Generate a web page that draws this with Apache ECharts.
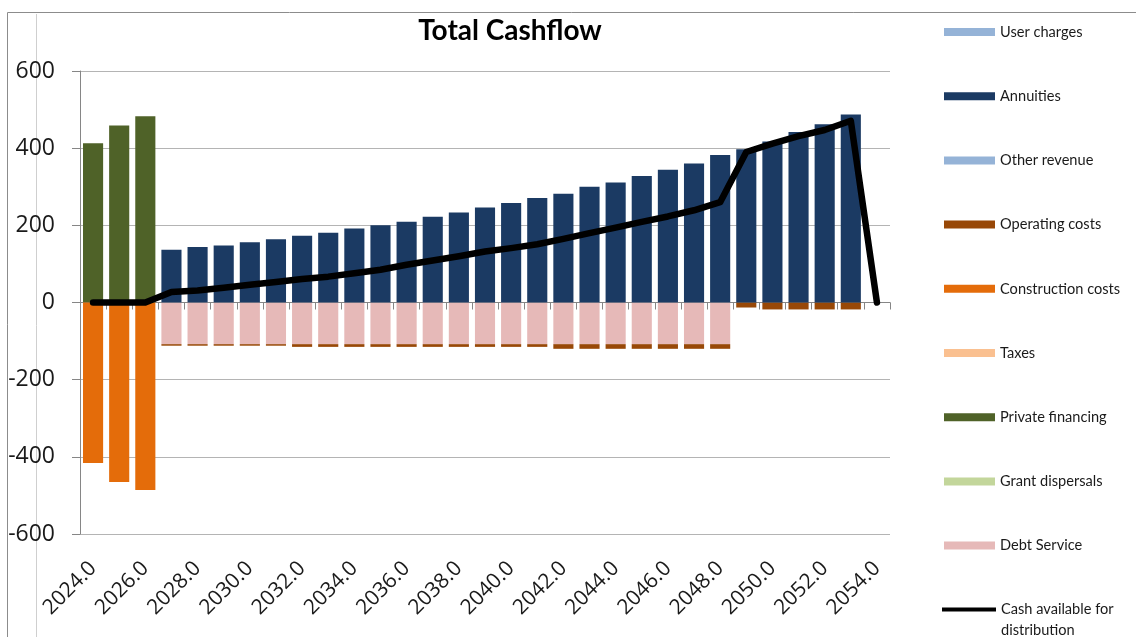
<!DOCTYPE html>
<html><head><meta charset="utf-8">
<script src="https://cdn.jsdelivr.net/npm/echarts@6/dist/echarts.min.js"></script>
<style>html,body{margin:0;padding:0;background:#fff}#c{width:1136px;height:637px}</style>
</head><body><div id="c"></div><script>
const years = ['2024.0','2025.0','2026.0','2027.0','2028.0','2029.0','2030.0','2031.0','2032.0','2033.0','2034.0','2035.0','2036.0','2037.0','2038.0','2039.0','2040.0','2041.0','2042.0','2043.0','2044.0','2045.0','2046.0','2047.0','2048.0','2049.0','2050.0','2051.0','2052.0','2053.0','2054.0'];
const yTicks = [-600,-400,-200,0,200,400,600];
const userCharges      = [0,0,0,0,0,0,0,0,0,0,0,0,0,0,0,0,0,0,0,0,0,0,0,0,0,0,0,0,0,0,0];
const annuities        = [0,0,0,137,144,148,156,164,173,181,192,200,209,222,233,246,258,271,282,300,311,328,344,360,382,397,417,442,462,487,0];
const otherRevenue     = [0,0,0,0,0,0,0,0,0,0,0,0,0,0,0,0,0,0,0,0,0,0,0,0,0,0,0,0,0,0,0];
const operatingCosts   = [0,0,0,-4,-4,-4,-4,-4,-7,-7,-7,-7,-7,-7,-7,-7,-7,-7,-12,-12,-12,-12,-12,-12,-12,-13,-18,-18,-18,-18,0];
const constructionCosts= [-416,-465,-486,0,0,0,0,0,0,0,0,0,0,0,0,0,0,0,0,0,0,0,0,0,0,0,0,0,0,0,0];
const taxes            = [0,0,0,0,0,0,0,0,0,0,0,0,0,0,0,0,0,0,0,0,0,0,0,0,0,0,0,0,0,0,0];
const privateFinancing = [413,459,483,0,0,0,0,0,0,0,0,0,0,0,0,0,0,0,0,0,0,0,0,0,0,0,0,0,0,0,0];
const grantDispersals  = [0,0,0,0,0,0,0,0,0,0,0,0,0,0,0,0,0,0,0,0,0,0,0,0,0,0,0,0,0,0,0];
const debtService      = [0,0,0,-108,-108,-108,-108,-108,-108,-108,-108,-108,-108,-108,-108,-108,-108,-108,-108,-108,-108,-108,-108,-108,-108,0,0,0,0,0,0];
const cashAvailable    = [0,0,0,27,31,38,46,53,61,67,76,85,98,109,120,132,141,151,165,180,194,209,223,239,260,390,412,431,447,471,0];

const CASH = 'Cash available for distribution';
const barDefs = [
  ['Debt Service', debtService, '#e6b9b8'],
  ['Grant dispersals', grantDispersals, '#c3d69b'],
  ['Private financing', privateFinancing, '#4f6228'],
  ['Taxes', taxes, '#fac090'],
  ['Construction costs', constructionCosts, '#e46c0a'],
  ['Operating costs', operatingCosts, '#984807'],
  ['Other revenue', otherRevenue, '#95b3d7'],
  ['Annuities', annuities, '#1b3a63'],
  ['User charges', userCharges, '#95b3d7']
];
const legendOrder = ['User charges','Annuities','Other revenue','Operating costs','Construction costs','Taxes','Private financing','Grant dispersals','Debt Service'];

const series = barDefs.map(([name, data, color]) => ({
  name, type: 'bar', stack: 'cf', data, xAxisIndex: 0,
  itemStyle: {color}, barCategoryGap: '23%', emphasis: {disabled: true}
}));
series.push({
  name: CASH, type: 'line', data: cashAvailable, xAxisIndex: 0, z: 10,
  symbol: 'none', lineStyle: {color: '#000', width: 6.5, cap: 'round', join: 'round'},
  itemStyle: {color: '#000'}
});

const chart = echarts.init(document.getElementById('c'));
chart.setOption({
  animation: false,
  title: {text: 'Total Cashflow', left: 505, top: 12, textAlign: 'center',
    textStyle: {fontFamily: 'Lato', fontWeight: 'bold', fontSize: 28, color: '#000'}},
  grid: {left: 80, right: 246, top: 71, bottom: 103, containLabel: false},
  legend: [{
    orient: 'vertical', left: 944, top: 23, padding: 0,
    itemWidth: 51, itemHeight: 8, itemGap: 46.2, icon: 'rect',
    data: legendOrder,
    textStyle: {fontFamily: 'Lato', fontSize: 14.6, color: '#1a1a1a', lineHeight: 18},
    selectedMode: false
  }, {
    orient: 'vertical', left: 942, top: 598.5, padding: 0,
    itemWidth: 54, itemHeight: 24,
    icon: 'path://M0,0h54v4h-54z M0,23.99h0.01v0.01h-0.01z',
    data: [CASH],
    formatter: () => 'Cash available for\ndistribution',
    textStyle: {fontFamily: 'Lato', fontSize: 14.6, color: '#1a1a1a', lineHeight: 21},
    selectedMode: false
  }],
  xAxis: [{
    type: 'category', data: years, boundaryGap: true,
    axisLine: {onZero: true, lineStyle: {color: '#868686', width: 1}},
    axisTick: {show: true, interval: 0, length: 7, lineStyle: {color: '#868686'}},
    axisLabel: {show: false}, splitLine: {show: false}
  }, {
    type: 'category', data: years, boundaryGap: true, position: 'bottom',
    axisLine: {show: false, onZero: false}, axisTick: {show: false},
    axisLabel: {show: true, interval: 1, rotate: 45, margin: 31,
      fontFamily: 'Open Sans', fontSize: 21, color: '#1a1a1a'},
    splitLine: {show: false}
  }],
  yAxis: {
    type: 'value', min: yTicks[0], max: yTicks[yTicks.length-1], interval: 200,
    axisLine: {show: true, lineStyle: {color: '#868686'}},
    axisTick: {show: true, length: 8, lineStyle: {color: '#868686'}},
    axisLabel: {margin: 25, fontFamily: 'Open Sans', fontSize: 23, color: '#1a1a1a'},
    splitLine: {lineStyle: {color: '#b4b4b4', width: 1}}
  },
  graphic: [
    {type: 'line', shape: {x1: 7.5, y1: 12.5, x2: 1136, y2: 12.5}, style: {stroke: '#8c8c8c', lineWidth: 1}, silent: true},
    {type: 'line', shape: {x1: 7.5, y1: 12.5, x2: 7.5, y2: 637}, style: {stroke: '#8c8c8c', lineWidth: 1}, silent: true},
    {type: 'line', shape: {x1: 36.5, y1: 14, x2: 36.5, y2: 637}, style: {stroke: '#cfcfcf', lineWidth: 1}, silent: true}
  ],
  series
});
</script></body></html>
